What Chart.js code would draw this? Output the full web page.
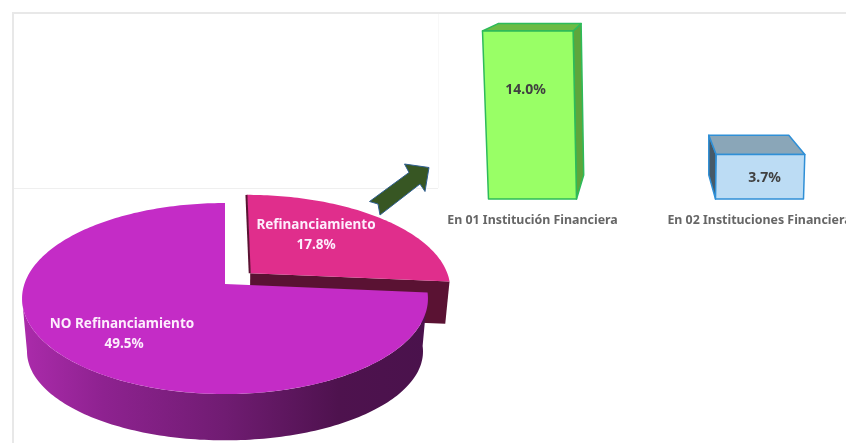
<!DOCTYPE html>
<html lang="es">
<head>
<meta charset="UTF-8">
<title>Refinanciamiento</title>
<script src="https://cdn.jsdelivr.net/npm/chart.js"></script>
<style>
    html, body { margin: 0; background: #fff; overflow: hidden; width: 846px; height: 443px; }
    canvas { position: absolute; }
    #marco { position: absolute; left: 12px; top: 12px; width: 834px; height: 431px;
             border-left: 2px solid #e8e8e8; border-top: 2px solid #e8e8e8; box-sizing: border-box; }
    #linea-h { position: absolute; left: 14px; top: 188px; width: 424px; height: 1px; background: #efefef; }
    #linea-v { position: absolute; left: 438px; top: 14px; width: 1px; height: 174px; background: #f8f8f8; }
</style>
</head>
<body>
<div id="marco"></div>
<div id="linea-h"></div>
<div id="linea-v"></div>
<canvas id="grafico-barras" width="454" height="240" style="left:419px;top:0"></canvas>
<canvas id="grafico-torta" width="846" height="443" style="left:0;top:0"></canvas>

<script>
const categoriasTorta = ['Refinanciamiento', 'NO Refinanciamiento'];
const valoresTorta = [17.8, 49.5];
const categoriasBarras = ['En 01 Institución Financiera', 'En 02 Instituciones Financiera'];
const valoresBarras = [14.0, 3.7];

const FUENTE = '"Noto Sans", sans-serif';
const TORTA = { cx: 225, cy: 284, radio: 200.6, alto: 93.3, fuga: 0.152, grosor: 54 };
const SEPARACION = { u: 0.128, v: -0.118, grosor: 0.78 };

// perspectiva de la torta: t = 0 es la cara superior, t = 1 la base
function proyectar(u, v, t) {
    const d = 1 - TORTA.fuga * v;
    const r = TORTA.radio - 4.9 * t;
    const a = TORTA.alto - 6.5 * t;
    return [TORTA.cx + r * u / d, TORTA.cy + TORTA.grosor * t + a * v / d];
}

function puntosArco(ini, fin, du, dv, t) {
    const pts = [];
    const pasos = Math.ceil(Math.abs(fin - ini) / 0.02);
    for (let i = 0; i <= pasos; i++) {
        const ang = ini + (fin - ini) * i / pasos;
        pts.push(proyectar(Math.cos(ang) + du, Math.sin(ang) + dv, t));
    }
    return pts;
}

function poligono(ctx, pts, color) {
    ctx.beginPath();
    pts.forEach((p, i) => i ? ctx.lineTo(p[0], p[1]) : ctx.moveTo(p[0], p[1]));
    ctx.closePath();
    ctx.fillStyle = color;
    ctx.fill();
}

function textoCentrado(ctx, texto, x, y, fuente, color) {
    ctx.font = fuente;
    ctx.fillStyle = color;
    ctx.textAlign = 'center';
    ctx.textBaseline = 'middle';
    ctx.fillText(texto, x, y);
}

const torta3d = {
    id: 'torta3d',
    beforeDatasetDraw(chart) {
        const ctx = chart.ctx;
        const [refi, noRefi] = chart.getDatasetMeta(0).data;
        const colores = chart.data.datasets[0].backgroundColor;

        // porcion separada: primero el corte oscuro y luego la cara
        const s = SEPARACION;
        const t = s.grosor;
        poligono(ctx, [
            proyectar(s.u, s.v, 0),
            proyectar(Math.cos(refi.endAngle) + s.u, Math.sin(refi.endAngle) + s.v, 0),
            proyectar(Math.cos(refi.endAngle) + s.u, Math.sin(refi.endAngle) + s.v, t),
            proyectar(s.u, s.v, t)
        ], '#5a1233');
        const centroRefi = proyectar(s.u, s.v, 0);
        const caraRefi = puntosArco(refi.startAngle, refi.endAngle, s.u, s.v, 0);
        poligono(ctx, [centroRefi, ...caraRefi], colores[0]);
        ctx.beginPath();
        ctx.moveTo(caraRefi[0][0] - 0.5, caraRefi[0][1]);
        ctx.lineTo(centroRefi[0] - 0.5, centroRefi[1]);
        ctx.strokeStyle = '#5a1233';
        ctx.lineWidth = 2;
        ctx.stroke();

        // lateral de la porcion grande, hasta donde la silueta da la vuelta
        const fondo = ctx.createLinearGradient(22, 0, 428, 0);
        fondo.addColorStop(0, '#ab2bab');
        fondo.addColorStop(0.2, '#8e2290');
        fondo.addColorStop(0.5, '#701c72');
        fondo.addColorStop(0.78, '#4e124e');
        fondo.addColorStop(1, '#4a124c');
        const frente = Math.PI - 0.15;
        poligono(ctx, [
            ...puntosArco(noRefi.startAngle, frente, 0, 0, 0),
            ...puntosArco(frente, noRefi.startAngle, 0, 0, 1)
        ], fondo);
        poligono(ctx, [
            proyectar(0, 0, 0),
            ...puntosArco(noRefi.startAngle, noRefi.endAngle, 0, 0, 0)
        ], colores[1]);

        const fuente = `bold 13.5px ${FUENTE}`;
        const blanco = '#fdeefd';
        const etiquetas = [[316, 225], [122, 324]];
        chart.data.labels.forEach((nombre, i) => {
            const [x, y] = etiquetas[i];
            textoCentrado(ctx, nombre, x, y, fuente, blanco);
            textoCentrado(ctx, chart.data.datasets[0].data[i].toFixed(1) + '%', x + (i ? 2 : 0), y + 20, fuente, blanco);
        });

        // flecha hacia el detalle de las barras
        const flecha = [[369.5, 201.5], [409, 172.5], [404.5, 164], [429, 167.5], [425, 191.5],
                        [420, 184], [380, 215], [378, 204]];
        poligono(ctx, flecha, '#375623');
        ctx.strokeStyle = '#2f5f92';
        ctx.lineWidth = 1;
        ctx.stroke();
        return false;
    }
};

new Chart(document.getElementById('grafico-torta'), {
    type: 'pie',
    data: {
        labels: categoriasTorta,
        datasets: [{ data: valoresTorta, backgroundColor: ['#e02e8c', '#c42cc6'] }]
    },
    options: {
        responsive: false,
        animation: false,
        events: [],
        plugins: { legend: { display: false }, tooltip: { enabled: false } }
    },
    plugins: [torta3d]
});

// caras de cada prisma, relativas al rectangulo que da la escala
const prismas = [
    {
        frente: '#99ff66', borde: '#2dbb5a', tapa: '#6cbb44', lado: '#5da63c',
        arribaIzq: -6, arribaDer: -3.4, abajoDer: 0,
        fondoIzq: 15.6, fondoDer: 8, fondoAlto: -7.4,
        ladoDerecho: true, ladoBaseX: 6.6, ladoBaseY: -24,
        texto: [-7, 59]
    },
    {
        frente: '#bcdcf4', borde: '#2f8fd6', tapa: '#8aa6b8', lado: '#465a68',
        arribaIzq: 0.7, arribaDer: 1.3, abajoDer: 0,
        fondoIzq: -7.4, fondoDer: -16, fondoAlto: -19.4,
        ladoDerecho: false, ladoBaseX: -6.7, ladoBaseY: -24,
        texto: [5, 23.5]
    }
];

const barras3d = {
    id: 'barras3d',
    beforeDatasetDraw(chart) {
        const ctx = chart.ctx;
        chart.getDatasetMeta(0).data.forEach((barra, i) => {
            const p = prismas[i];
            const izq = barra.x - barra.width / 2;
            const der = barra.x + barra.width / 2;
            const ai = [izq + p.arribaIzq, barra.y];
            const ad = [der + p.arribaDer, barra.y];
            const bi = [izq, barra.base];
            const bd = [der, barra.base];
            const fi = [ai[0] + p.fondoIzq, barra.y + p.fondoAlto];
            const fd = [ad[0] + p.fondoDer, barra.y + p.fondoAlto];

            ctx.lineJoin = 'round';
            ctx.lineWidth = 1.5;
            ctx.strokeStyle = p.borde;
            const caras = p.ladoDerecho
                ? [[[ad, fd, [fd[0] + p.ladoBaseX - 4, barra.base + p.ladoBaseY], bd], p.lado]]
                : [[[ai, fi, [fi[0], barra.base + p.ladoBaseY], bi], p.lado]];
            caras.push([[ai, fi, fd, ad], p.tapa]);
            caras.push([[ai, ad, bd, bi], p.frente]);
            caras.forEach(([pts, color]) => {
                poligono(ctx, pts, color);
                ctx.stroke();
            });

            const valor = chart.data.datasets[0].data[i].toFixed(1) + '%';
            textoCentrado(ctx, valor, barra.x + p.texto[0], barra.y + p.texto[1], `bold 14px ${FUENTE}`, '#404040');
        });
        return false;
    }
};

new Chart(document.getElementById('grafico-barras'), {
    type: 'bar',
    data: {
        labels: categoriasBarras,
        datasets: [{ data: valoresBarras, barThickness: 88, backgroundColor: '#99ff66' }]
    },
    options: {
        responsive: false,
        animation: false,
        events: [],
        layout: { padding: { top: 19 } },
        plugins: { legend: { display: false }, tooltip: { enabled: false } },
        scales: {
            y: { display: false, min: 0, max: 15 },
            x: {
                grid: { display: false },
                border: { display: false },
                ticks: {
                    maxRotation: 0,
                    autoSkip: false,
                    padding: 6,
                    color: '#666666',
                    font: { family: FUENTE, size: 12.4, weight: 'bold' }
                },
                afterFit(escala) { escala.height = 41; }
            }
        }
    },
    plugins: [barras3d]
});
</script>
</body>
</html>
